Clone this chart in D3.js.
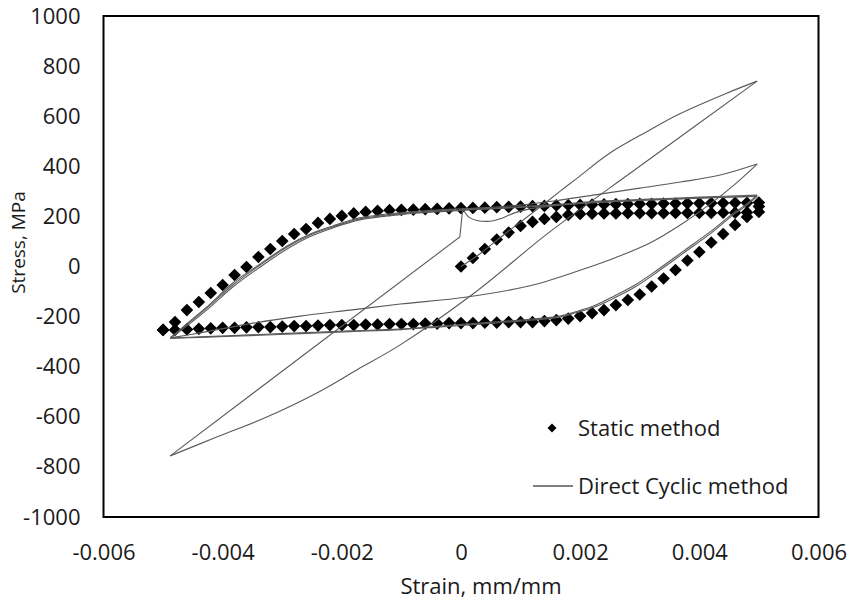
<!DOCTYPE html>
<html>
<head>
<meta charset="utf-8">
<script src="https://cdn.jsdelivr.net/npm/d3@7"></script>
<style>
  body { margin: 0; background: #fff; }
  svg text { font-family: "Open Sans", sans-serif; fill: #1a1a1a; }
</style>
</head>
<body>
<div id="chart"></div>
<script>
// axis ticks
var xTicks = [-0.006, -0.004, -0.002, 0, 0.002, 0.004, 0.006];
var xTickLabels = ["-0.006", "-0.004", "-0.002", "0", "0.002", "0.004", "0.006"];
var yTicks = [-1000, -800, -600, -400, -200, 0, 200, 400, 600, 800, 1000];
var yTickLabels = ["-1000", "-800", "-600", "-400", "-200", "0", "200", "400", "600", "800", "1000"];

// Static method: hysteresis loop (both branches share the strain list)
var staticStrain = [-0.005, -0.0048, -0.0046, -0.0044, -0.0042, -0.004, -0.0038, -0.0036, -0.0034, -0.0032,
    -0.003, -0.0028, -0.0026, -0.0024, -0.0022, -0.002, -0.0018, -0.0016, -0.0014, -0.0012,
    -0.001, -0.0008, -0.0006, -0.0004, -0.0002, 0, 0.0002, 0.0004, 0.0006, 0.0008,
    0.001, 0.0012, 0.0014, 0.0016, 0.0018, 0.002, 0.0022, 0.0024, 0.0026, 0.0028,
    0.003, 0.0032, 0.0034, 0.0036, 0.0038, 0.004, 0.0042, 0.0044, 0.0046, 0.0048, 0.005];
var staticUpper = [-253, -222, -174, -142, -106, -74, -34, -2, 38, 70,
    102, 130, 150, 174, 190, 202, 212, 218, 222, 225,
    226, 227, 229, 230, 232, 233, 234, 235, 237, 238,
    239, 241, 242, 244, 245, 246, 247, 248, 249, 249,
    250, 250, 251, 251, 252, 252, 253, 253, 254, 254, 255];
var staticLower = [-253, -253, -251, -249, -247, -245, -245, -243, -242, -242,
    -240, -238, -238, -236, -234, -234, -234, -232, -232, -230,
    -230, -230, -228, -228, -226, -226, -226, -224, -224, -222,
    -222, -222, -218, -214, -208, -198, -186, -174, -154, -134,
    -112, -80, -48, -14, 24, 58, 96, 130, 166, 198, 240];
// Static method: first loading from zero
var initStrain = [0, 0.0002, 0.0004, 0.0006, 0.0008, 0.001, 0.0012, 0.0014, 0.0016, 0.0018,
    0.002, 0.0022, 0.0024, 0.0026, 0.0028, 0.003, 0.0032, 0.0034, 0.0036, 0.0038,
    0.004, 0.0042, 0.0044, 0.0046, 0.0048, 0.005];
var initStress = [0, 34, 70, 108, 136, 162, 178, 190, 198, 206,
    210, 211, 212, 212, 213, 213, 213, 213, 214, 214,
    214, 214, 215, 215, 216, 218];

// Direct Cyclic method: pieces of the curves
var dcLoadStrain = [0, 0.00032, 0.00065, 0.00099, 0.00133, 0.00166, 0.00195, 0.0025, 0.00317, 0.00363, 0.00446, 0.00497];
var dcLoadStress = [0, 51, 114, 176, 238, 300, 353, 453, 545, 605, 692, 740];
var dcUnloadStrain = [0.00497, 0.003, 0.0015, 0.0002, -0.00102, -0.00175, -0.00242, -0.00326, -0.0041, -0.00488];
var dcUnloadStress = [740, 400, 140, -110, -313, -413, -505, -601, -681, -756];
var dcReloadStrain = [-0.00488, -0.00002, 0.00003];
var dcReloadStress = [-756, 118, 232];
var dcDipStrain = [0.00003, 0.00015, 0.00045, 0.0007, 0.0009, 0.00116, 0.00166, 0.0025, 0.00368, 0.00497];
var dcDipStress = [232, 194, 180, 194, 214, 230, 245, 258, 270, 281];

var dcMidLowStrain = [-0.00488, -0.00438, -0.00349, -0.0027, -0.00186, -0.00102, 0.0001, 0.00121, 0.00211, 0.00262, 0.00317, 0.00368, 0.00418, 0.0046, 0.00497];
var dcMidLowStress = [-285, -265, -226, -198, -174, -150, -122, -74, -6, 38, 94, 166, 249, 329, 409];
var dcMidUpStrain = [0.00497, 0.00435, 0.00368, 0.003, 0.00233, 0.00166, 0.00099, 0.00032, -0.00035, -0.00102, -0.0017, -0.00215, -0.00253, -0.00292, -0.00337, -0.00383, -0.00421, -0.00455, -0.00488];
var dcMidUpStress = [409, 365, 337, 313, 289, 265, 245, 234, 226, 214, 194, 162, 130, 82, 10, -66, -150, -218, -285];

var dcLoopUpStrain = [-0.00488, -0.00455, -0.00421, -0.00383, -0.00337, -0.00292, -0.00253, -0.00215, -0.0017, -0.00102, -0.00035, 0.00032, 0.00099, 0.00166, 0.00233, 0.00317, 0.00401, 0.00497];
var dcLoopUpStressA = [-285, -222, -154, -74, 6, 78, 126, 158, 190, 210, 222, 230, 238, 249, 261, 269, 277, 285];
var dcLoopUpStressB = [-287, -228, -162, -82, -2, 70, 120, 154, 186, 207, 219, 228, 236, 246, 257, 266, 274, 280];
var dcLoopDownStrain = [0.00497, 0.00477, 0.0046, 0.00418, 0.00376, 0.00334, 0.00292, 0.0025, 0.00222, 0.00191, 0.00166, 0.00099, 0.00032, -0.00035, -0.00102, -0.00186, -0.0027, -0.00354, -0.00438, -0.00488];
var dcLoopDownStressA = [285, 245, 218, 138, 66, -6, -74, -126, -158, -182, -198, -214, -226, -238, -250, -257, -265, -273, -281, -285];
var dcLoopDownStressB = [280, 240, 212, 130, 58, -14, -82, -134, -164, -186, -202, -218, -230, -241, -252, -260, -268, -276, -283, -287];

var legendNames = ["Static method", "Direct Cyclic method"];

// set the dimensions and margins of the graph
var margin = { top: 16, right: 34.5, bottom: 83, left: 103.5 },
    width = 853 - margin.left - margin.right,
    height = 600 - margin.top - margin.bottom;

var svg = d3.select("#chart")
    .append("svg")
    .attr("width", 853)
    .attr("height", 600)
    .append("g")
    .attr("transform", "translate(" + margin.left + "," + margin.top + ")");

var x = d3.scaleLinear().domain([-0.006, 0.006]).range([0, width]);
var y = d3.scaleLinear().domain([-1000, 1000]).range([height, 0]);

// axes (labels only, no tick marks)
var xAxis = svg.append("g")
    .attr("transform", "translate(0," + height + ")")
    .call(d3.axisBottom(x).tickValues(xTicks).tickSize(0).tickPadding(27)
        .tickFormat(function (d, i) { return xTickLabels[i]; }));
var yAxis = svg.append("g")
    .call(d3.axisLeft(y).tickValues(yTicks).tickSize(0).tickPadding(23)
        .tickFormat(function (d, i) { return yTickLabels[i]; }));
svg.selectAll(".domain").remove();
svg.selectAll(".tick text")
    .attr("font-family", "Open Sans, sans-serif")
    .attr("font-size", "22px")
    .attr("fill", "#1a1a1a");

// plot frame
svg.append("rect")
    .attr("width", width)
    .attr("height", height)
    .attr("fill", "none")
    .attr("stroke", "#000")
    .attr("stroke-width", 2);

// axis titles
svg.append("text")
    .attr("x", x(0) + 20)
    .attr("y", height + 77)
    .attr("text-anchor", "middle")
    .attr("font-size", "22px")
    .text("Strain, mm/mm");
svg.append("text")
    .attr("transform", "translate(-79," + (y(0) - 24) + ") rotate(-90)")
    .attr("text-anchor", "middle")
    .attr("font-size", "19px")
    .text("Stress, MPa");

// static method diamonds
var diamond = function (r) {
    return "M0," + (-r) + "L" + r + ",0L0," + r + "L" + (-r) + ",0Z";
};
var staticPts = []
    .concat(initStrain.map(function (s, i) { return [s, initStress[i]]; }))
    .concat(staticStrain.map(function (s, i) { return [s, staticUpper[i]]; }))
    .concat(staticStrain.map(function (s, i) { return [s, staticLower[i]]; }));

svg.append("g").selectAll("path")
    .data(staticPts)
    .enter()
    .append("path")
    .attr("transform", function (d) { return "translate(" + x(d[0]) + "," + y(d[1]) + ")"; })
    .attr("d", diamond(6.3))
    .attr("fill", "#000");

// direct cyclic lines (the reload piece is straight)
var pieces = [
    [dcLoadStrain, dcLoadStress, true],
    [dcUnloadStrain, dcUnloadStress, true],
    [dcReloadStrain, dcReloadStress, false],
    [dcDipStrain, dcDipStress, true],
    [dcMidLowStrain, dcMidLowStress, true],
    [dcMidUpStrain, dcMidUpStress, true],
    [dcLoopUpStrain, dcLoopUpStressA, true],
    [dcLoopUpStrain, dcLoopUpStressB, true],
    [dcLoopDownStrain, dcLoopDownStressA, true],
    [dcLoopDownStrain, dcLoopDownStressB, true]
];
var smooth = d3.line()
    .x(function (d) { return x(d[0]); })
    .y(function (d) { return y(d[1]); })
    .curve(d3.curveCatmullRom.alpha(0.5));
var straight = d3.line()
    .x(function (d) { return x(d[0]); })
    .y(function (d) { return y(d[1]); });

svg.append("g").selectAll("path")
    .data(pieces)
    .enter()
    .append("path")
    .attr("d", function (p) {
        var pts = p[0].map(function (s, i) { return [s, p[1][i]]; });
        return p[2] ? smooth(pts) : straight(pts);
    })
    .attr("fill", "none")
    .attr("stroke", "#5a5a5a")
    .attr("stroke-width", 1.1);

// legend
var legend = svg.append("g");
legend.append("path")
    .attr("transform", "translate(" + (552 - margin.left) + "," + (428 - margin.top) + ")")
    .attr("d", diamond(4.5))
    .attr("fill", "#000");
legend.append("line")
    .attr("x1", 533 - margin.left).attr("x2", 573 - margin.left)
    .attr("y1", 486 - margin.top).attr("y2", 486 - margin.top)
    .attr("stroke", "#000")
    .attr("stroke-width", 1);
legend.selectAll("text")
    .data(legendNames)
    .enter()
    .append("text")
    .attr("x", 578 - margin.left)
    .attr("y", function (d, i) { return (i === 0 ? 436 : 494) - margin.top; })
    .attr("font-size", "22px")
    .text(function (d) { return d; });
</script>
</body>
</html>
